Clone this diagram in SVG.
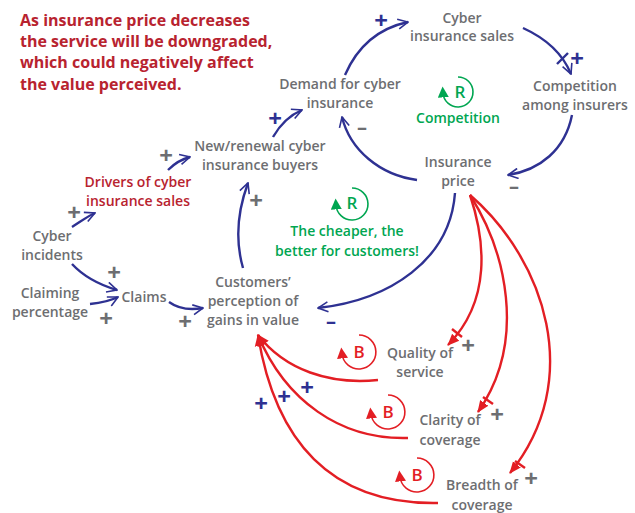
<svg xmlns="http://www.w3.org/2000/svg" width="635" height="513" viewBox="0 0 635 513">
<defs>
<marker id="ob" viewBox="0 0 12 12" refX="11" refY="6" markerWidth="12" markerHeight="12" markerUnits="userSpaceOnUse" orient="auto">
<path d="M1,1 L11,6 L1,11" fill="none" stroke="#2e3192" stroke-width="1.6"/>
</marker>
<marker id="fr" viewBox="0 0 12 12" refX="11" refY="6" markerWidth="12" markerHeight="12" markerUnits="userSpaceOnUse" orient="auto">
<path d="M0,1 L12,6 L0,11 Z" fill="#e31e24"/>
</marker>
<marker id="fg" viewBox="0 0 10 10" refX="4" refY="5" markerWidth="11" markerHeight="11" markerUnits="userSpaceOnUse" orient="auto">
<path d="M0,0 L10,5 L0,10 Z" fill="#00a651"/>
</marker>
<marker id="fr2" viewBox="0 0 10 10" refX="4" refY="5" markerWidth="11" markerHeight="11" markerUnits="userSpaceOnUse" orient="auto">
<path d="M0,0 L10,5 L0,10 Z" fill="#e31e24"/>
</marker>
</defs>
<style>
text{font-family:"Open Sans","Liberation Sans",sans-serif;font-weight:600;font-size:14px;text-anchor:middle}
.g{fill:#6d6e71}
.t{fill:#b8232f;font-weight:700;font-size:16px;text-anchor:start}
.dr{fill:#b8232f}
.gr{fill:#00a651}
.lr{fill:#e31e24;font-size:17px}
.lg{fill:#00a651;font-size:17px}
.bl{fill:none;stroke:#2e3192;stroke-width:2.4}
.rd{fill:none;stroke:#e31e24;stroke-width:2.4}
.sg{fill:#6d6e71;font-size:24px;font-weight:700}
.sb{fill:#2e3192;font-size:24px;font-weight:700}
.mg{fill:#6d6e71;font-size:20px;font-weight:700}
.mb{fill:#2e3192;font-size:20px;font-weight:700}
</style>
<g id="title">
<text class="t" x="20" y="26">As insurance price decreases</text>
<text class="t" x="20" y="47">the service will be downgraded,</text>
<text class="t" x="20" y="68">which could negatively affect</text>
<text class="t" x="20" y="90">the value perceived.</text>
</g>
<g id="connectors">
<path class="bl" d="M345,75 C358,45 380,28 408,22" marker-end="url(#ob)"/>
<path class="bl" d="M523,28 C545,38 562,52 571,74" marker-end="url(#ob)"/>
<path class="bl" d="M557,64 L568,53"/>
<path class="bl" d="M572,115 C565,150 540,170 508,175" marker-end="url(#ob)"/>
<path class="bl" d="M417,180 C380,175 350,150 342,117" marker-end="url(#ob)"/>
<path class="bl" d="M273,137 C280,125 290,115 302,110" marker-end="url(#ob)"/>
<path class="bl" d="M168,170 C175,163 182,159 190,157" marker-end="url(#ob)"/>
<path class="bl" d="M72,227 C80,222 88,216 95,213" marker-end="url(#ob)"/>
<path class="bl" d="M72,264 C85,278 100,285 117,290" marker-end="url(#ob)"/>
<path class="bl" d="M90,304 C100,303 110,301 118,297" marker-end="url(#ob)"/>
<path class="bl" d="M169,302 C180,310 192,310 203,308" marker-end="url(#ob)"/>
<path class="bl" d="M243,268 C235,240 238,210 248,183" marker-end="url(#ob)"/>
<path class="bl" d="M455,193 C450,260 390,300 318,308" marker-end="url(#ob)"/>
<path class="rd" d="M470,195 C485,240 492,300 448,345" marker-end="url(#fr)"/>
<path class="rd" d="M452,329 L462,337"/>
<path class="rd" d="M470,195 C505,250 528,340 478,412" marker-end="url(#fr)"/>
<path class="rd" d="M483,397 L493,404"/>
<path class="rd" d="M470,195 C545,260 585,380 510,473" marker-end="url(#fr)"/>
<path class="rd" d="M515,461 L525,468"/>
<path class="rd" d="M378,380 C330,385 285,370 258,335" marker-end="url(#fr)"/>
<path class="rd" d="M408,438 C340,440 285,400 258,335" marker-end="url(#fr)"/>
<path class="rd" d="M438,503 C330,505 275,440 258,335" marker-end="url(#fr)"/>
</g>
<g id="signs">
<text class="sb" x="381" y="29">+</text>
<text class="sb" x="577" y="67">+</text>
<text class="mg" x="514" y="193">–</text>
<text class="mg" x="362" y="134">–</text>
<text class="sb" x="275" y="127">+</text>
<text class="sg" x="166" y="164">+</text>
<text class="sg" x="74" y="221">+</text>
<text class="sg" x="114" y="281">+</text>
<text class="sg" x="106" y="327">+</text>
<text class="sg" x="185" y="330">+</text>
<text class="sg" x="256" y="209">+</text>
<text class="mb" x="331" y="328">–</text>
<text class="sg" x="468" y="354">+</text>
<text class="sg" x="497" y="423">+</text>
<text class="sg" x="531" y="487">+</text>
<text class="sb" x="307" y="396">+</text>
<text class="sb" x="284" y="405">+</text>
<text class="sb" x="261" y="412">+</text>
</g>
<g id="loop-competition">
<path d="M458,77 A15,15 0 1 1 443,93" fill="none" stroke="#00a651" stroke-width="1.6" marker-end="url(#fg)"/>
<text class="lg" x="460" y="98">R</text>
<text class="gr" x="458" y="123">Competition</text>
</g>
<g id="loop-cheaper">
<path d="M352,188 A16,16 0 1 1 336,205" fill="none" stroke="#00a651" stroke-width="1.6" marker-end="url(#fg)"/>
<text class="lg" x="352" y="209">R</text>
<text class="gr" x="347" y="236">The cheaper, the</text>
<text class="gr" x="347" y="256">better for customers!</text>
</g>
<g id="loop-b1">
<path d="M359,335 A17,17 0 1 1 342,354" fill="none" stroke="#e31e24" stroke-width="1.6" marker-end="url(#fr2)"/>
<text class="lr" x="359" y="358">B</text>
</g>
<g id="loop-b2">
<path d="M388,395 A17,17 0 1 1 371,414" fill="none" stroke="#e31e24" stroke-width="1.6" marker-end="url(#fr2)"/>
<text class="lr" x="388" y="418">B</text>
</g>
<g id="loop-b3">
<path d="M417,458 A17,17 0 1 1 400,477" fill="none" stroke="#e31e24" stroke-width="1.6" marker-end="url(#fr2)"/>
<text class="lr" x="417" y="481">B</text>
</g>
<g id="n-sales"><text class="g" x="462" y="23">Cyber</text><text class="g" x="462" y="41">insurance sales</text></g>
<g id="n-demand"><text class="g" x="340" y="89">Demand for cyber</text><text class="g" x="340" y="108">insurance</text></g>
<g id="n-competition"><text class="g" x="575" y="91">Competition</text><text class="g" x="575" y="110">among insurers</text></g>
<g id="n-price"><text class="g" x="458" y="167">Insurance</text><text class="g" x="458" y="186">price</text></g>
<g id="n-buyers"><text class="g" x="260" y="151">New/renewal cyber</text><text class="g" x="260" y="170">insurance buyers</text></g>
<g id="n-drivers"><text class="dr" x="138" y="187">Drivers of cyber</text><text class="dr" x="138" y="206">insurance sales</text></g>
<g id="n-incidents"><text class="g" x="52" y="241">Cyber</text><text class="g" x="52" y="260">incidents</text></g>
<g id="n-claiming"><text class="g" x="50" y="298">Claiming</text><text class="g" x="50" y="317">percentage</text></g>
<g id="n-claims"><text class="g" x="144" y="302">Claims</text></g>
<g id="n-customers"><text class="g" x="253" y="287">Customers’</text><text class="g" x="253" y="306">perception of</text><text class="g" x="253" y="325">gains in value</text></g>
<g id="n-quality"><text class="g" x="420" y="358">Quality of</text><text class="g" x="420" y="377">service</text></g>
<g id="n-clarity"><text class="g" x="450" y="425">Clarity of</text><text class="g" x="450" y="445">coverage</text></g>
<g id="n-breadth"><text class="g" x="482" y="490">Breadth of</text><text class="g" x="482" y="510">coverage</text></g>
</svg>
